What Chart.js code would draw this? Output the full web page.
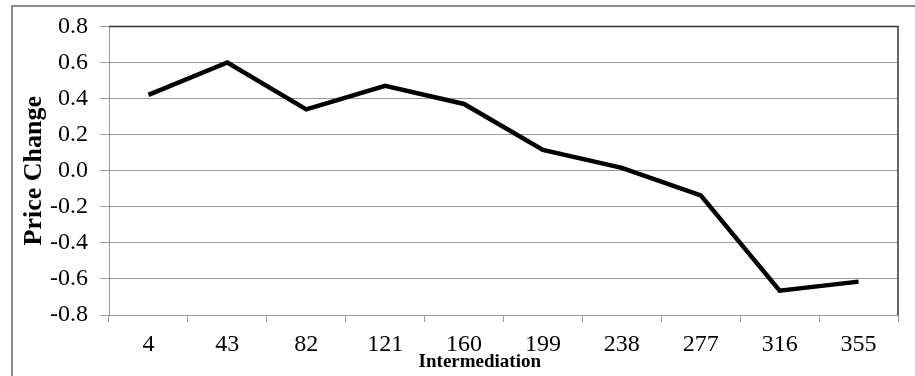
<!DOCTYPE html>
<html>
<head>
<meta charset="utf-8">
<script src="https://cdn.jsdelivr.net/npm/chart.js@4/dist/chart.umd.min.js"></script>
<style>
  html, body { margin: 0; padding: 0; background: #fff; overflow: hidden; }
  #wrap { position: absolute; left: 0; top: 0; width: 915px; height: 376px; }
  #frame { position: absolute; left: 11px; top: 5px; width: 920px; height: 390px; border: 2px solid #8c8c8c; box-sizing: border-box; pointer-events: none; }
  canvas { position: absolute; left: 0; top: 0; }
</style>
</head>
<body>
<div id="wrap">
  <canvas id="c" width="915" height="376"></canvas>
  <div id="frame"></div>
</div>
<script>
const categories = ['4', '43', '82', '121', '160', '199', '238', '277', '316', '355'];
const priceChange = [0.42, 0.60, 0.34, 0.47, 0.37, 0.115, 0.016, -0.137, -0.665, -0.615];
const yTicks = [-0.8, -0.6, -0.4, -0.2, 0.0, 0.2, 0.4, 0.6, 0.8];
const xTitle = 'Intermediation';
const yTitle = 'Price Change';

const FONT = "'Liberation Serif', 'Times New Roman', serif";

const titlesPlugin = {
  id: 'titles',
  afterDraw(chart) {
    const ctx = chart.ctx;
    const a = chart.chartArea;
    ctx.save();
    // plot area top/right frame
    ctx.strokeStyle = '#333';
    ctx.lineWidth = 1.5;
    ctx.beginPath();
    ctx.moveTo(a.left, a.top);
    ctx.lineTo(a.right, a.top);
    ctx.lineTo(a.right, a.bottom);
    ctx.stroke();
    ctx.fillStyle = '#000';
    ctx.textAlign = 'center';
    ctx.textBaseline = 'alphabetic';
    ctx.font = "bold 19px " + FONT;
    ctx.fillText(xTitle, a.left + (a.right - a.left) * 0.47, a.bottom + 52);
    ctx.font = "bold 26px " + FONT;
    ctx.translate(40.5, (a.top + a.bottom) / 2);
    ctx.rotate(-Math.PI / 2);
    ctx.fillText(yTitle, 0, 0);
    ctx.restore();
  }
};

new Chart(document.getElementById('c'), {
  type: 'line',
  data: {
    labels: categories,
    datasets: [{
      data: priceChange,
      borderColor: '#000',
      borderWidth: 4.5,
      pointRadius: 0,
      tension: 0,
      fill: false
    }]
  },
  options: {
    responsive: false,
    animation: false,
    layout: { padding: { top: 24, right: 17, left: 0, bottom: 0 } },
    plugins: { legend: { display: false }, tooltip: { enabled: false } },
    scales: {
      x: {
        type: 'category',
        offset: true,
        grid: { offset: true, drawOnChartArea: false, drawTicks: true, tickLength: 7, color: '#999' },
        border: { color: '#999', width: 1 },
        ticks: { color: '#000', font: { family: FONT, size: 24 }, padding: 8, maxRotation: 0, autoSkip: false },
        afterFit(scale) { scale.height = 61; }
      },
      y: {
        min: -0.8,
        max: 0.8,
        afterBuildTicks(scale) { scale.ticks = yTicks.map(v => ({ value: v })); },
        grid: { color: '#999', tickLength: 9, lineWidth: 1 },
        border: { color: '#999', width: 1 },
        ticks: { color: '#000', font: { family: FONT, size: 24 }, padding: 12,
                 callback: v => Number(v).toFixed(1) },
        afterFit(scale) { scale.width = 109; }
      }
    }
  },
  plugins: [titlesPlugin]
});
</script>
</body>
</html>
